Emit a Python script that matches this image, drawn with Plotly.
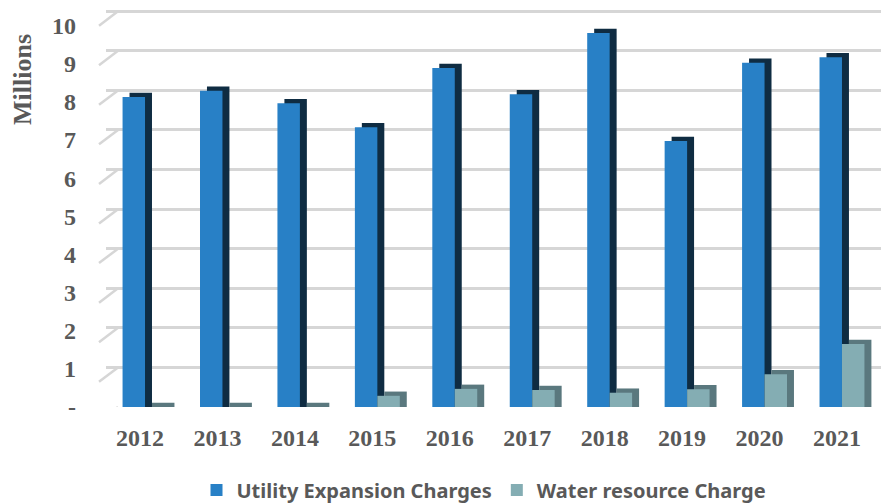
import plotly.graph_objects as go

years = ["2012", "2013", "2014", "2015", "2016", "2017", "2018", "2019", "2020", "2021"]
utility = [8.03, 8.19, 7.87, 7.25, 8.78, 8.10, 9.69, 6.89, 8.92, 9.06]
water = [0.0, 0.0, 0.0, 0.29, 0.47, 0.44, 0.37, 0.46, 0.85, 1.63]
y_ticks = [0, 1, 2, 3, 4, 5, 6, 7, 8, 9, 10]
y_ticktext = ["-", "1", "2", "3", "4", "5", "6", "7", "8", "9", "10"]

W, H = 883, 504
PX_PER_UNIT = 38.6
BAR_W = 0.29
DX = 0.09
DY = 0.11

BLUE = "#2880c6"
BLUE_DARK = "#0f2c42"
TEAL = "#84adb3"
TEAL_DARK = "#5a787e"
GRID = "#d6d6d6"
TXT = "#595959"

xidx = list(range(len(years)))

fig = go.Figure()
# 3D depth (side + top) faces, drawn behind
fig.add_trace(go.Bar(x=xidx, y=[v + DY for v in utility], base=0, offset=-BAR_W + DX, width=BAR_W,
                     marker=dict(color=BLUE_DARK, line=dict(width=0)), showlegend=False, hoverinfo="skip"))
fig.add_trace(go.Bar(x=xidx, y=[v + DY for v in water], base=0, offset=DX, width=BAR_W,
                     marker=dict(color=TEAL_DARK, line=dict(width=0)), showlegend=False, hoverinfo="skip"))
# front faces
fig.add_trace(go.Bar(x=xidx, y=utility, offset=-BAR_W, width=BAR_W, name="Utility Expansion Charges",
                     marker=dict(color=BLUE, line=dict(width=0))))
fig.add_trace(go.Bar(x=xidx, y=water, offset=0, width=BAR_W, name="Water resource Charge",
                     marker=dict(color=TEAL, line=dict(width=0))))
# helper traces for back-wall grid and front tick labels
fig.add_trace(go.Scatter(x=[None], y=[None], xaxis="x2", yaxis="y2", showlegend=False, hoverinfo="skip"))
fig.add_trace(go.Scatter(x=[None], y=[None], xaxis="x", yaxis="y3", showlegend=False, hoverinfo="skip"))

y_bar0 = 407
y_wall0 = 397
y_lab0 = 412
wall_left, wall_right = 118, 880
front_left = 99

shapes = []
for v in y_ticks:
    shapes.append(dict(type="line", xref="paper", yref="y2",
                       x0=front_left / W, x1=wall_left / W,
                       y0=v - (y_lab0 - 1 - y_wall0) / PX_PER_UNIT, y1=v,
                       line=dict(color=GRID, width=2.5), layer="below"))

fig.update_layout(
    width=W, height=H,
    margin=dict(l=0, r=0, t=0, b=0, autoexpand=False),
    paper_bgcolor="white", plot_bgcolor="rgba(0,0,0,0)",
    barmode="overlay",
    shapes=shapes,
    xaxis=dict(domain=[106.3 / W, 880.7 / W], range=[-0.5, 9.5],
               tickmode="array", tickvals=xidx, ticktext=years,
               showgrid=False, zeroline=False, showline=False, ticks="",
               ticklabelshift=-5, ticklabelstandoff=14,
               tickfont=dict(family="Liberation Serif", size=24, color=TXT, weight="bold")),
    yaxis=dict(domain=[(H - y_bar0) / H, 1], range=[0, y_bar0 / PX_PER_UNIT],
               showgrid=False, zeroline=False, showticklabels=False),
    xaxis2=dict(domain=[wall_left / W, wall_right / W], range=[0, 1], overlaying="x",
                showgrid=False, zeroline=False, showticklabels=False, anchor="y2"),
    yaxis2=dict(domain=[(H - y_wall0) / H, 1], range=[0, y_wall0 / PX_PER_UNIT], overlaying="y",
                anchor="x2", showgrid=True, gridcolor=GRID, gridwidth=2.5,
                tickmode="array", tickvals=y_ticks, zeroline=False, showticklabels=False),
    yaxis3=dict(domain=[(H - y_lab0) / H, 1], range=[0, y_lab0 / PX_PER_UNIT], overlaying="y",
                anchor="free", position=76 / W, showgrid=False, zeroline=False, showline=False,
                tickmode="array", tickvals=y_ticks, ticktext=y_ticktext, ticks="",
                tickfont=dict(family="Liberation Serif", size=24, color=TXT, weight="bold")),
    legend=dict(orientation="h", x=484 / W, xanchor="center", y=(H - 490) / H, yanchor="middle",
                font=dict(family="Noto Sans", size=20, color=TXT, weight="bold"),
                itemwidth=30, traceorder="normal"),
    annotations=[dict(text="Millions", textangle=-90, xref="paper", yref="paper",
                      x=22 / W, y=(H - 80) / H, xanchor="center", yanchor="middle", showarrow=False,
                      font=dict(family="Liberation Serif", size=26, color=TXT, weight="bold"))],
)

fig.write_html("out.html", config={"displayModeBar": False},
               post_script="document.body.style.margin='0px';document.body.style.overflow='hidden';")
